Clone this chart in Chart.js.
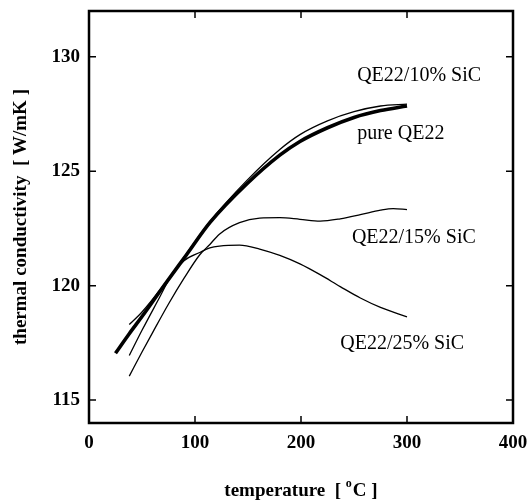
<!DOCTYPE html>
<html><head><meta charset="utf-8">
<script src="https://cdn.jsdelivr.net/npm/chart.js@4/dist/chart.umd.min.js"></script>
<style>html,body{margin:0;padding:0;background:#fff;}</style>
</head><body>
<canvas id="c" width="531" height="504" style="display:block;width:531px;height:504px"></canvas>
<script>
// ---- data ----
const xTicks = [0, 100, 200, 300, 400];
const yTicks = [115, 120, 125, 130];

const tempPure = [25, 38, 50, 70, 92, 114, 149, 180, 199, 225, 250, 275, 300];
const kPure    = [117.05, 117.9, 118.65, 119.95, 121.35, 122.75, 124.45, 125.7, 126.3, 126.9, 127.35, 127.65, 127.85];

const temp10 = [38, 50, 70, 92, 114, 149, 180, 199, 225, 250, 275, 300];
const k10    = [118.3, 118.85, 120.0, 121.4, 122.8, 124.6, 125.95, 126.6, 127.2, 127.6, 127.85, 127.93];

const temp15 = [38, 50, 60, 75, 90, 104.5, 114, 123, 142, 161, 180, 199, 218, 237, 256, 275, 287, 300];
const k15    = [116.05, 117.1, 117.95, 119.2, 120.35, 121.35, 121.8, 122.25, 122.75, 122.95, 122.97, 122.9, 122.82, 122.92, 123.1, 123.3, 123.37, 123.32];

const temp25 = [38, 50, 65, 79, 90, 104.5, 114, 123, 142, 161, 180, 199, 218, 237, 256, 275, 300];
const k25    = [116.95, 118.05, 119.35, 120.55, 121.1, 121.45, 121.65, 121.73, 121.77, 121.6, 121.32, 120.95, 120.48, 119.96, 119.46, 119.05, 118.64];

const seriesNames = ['pure QE22', 'QE22/10% SiC', 'QE22/15% SiC', 'QE22/25% SiC'];
// label anchors in data units (left edge x, vertical centre y)
const labelX = [253, 253, 248, 237];
const labelY = [126.62, 129.18, 122.08, 117.48];

const xTitle = 'temperature  [ ';
const xTitleSup = 'o';
const xTitleEnd = 'C ]';
const yTitle = 'thermal conductivity  [ W/mK ]';

// ---- build ----
const pts = (xs, ys) => xs.map((v, i) => ({x: v, y: ys[i]}));
const SERIF = '"Liberation Serif", "Times New Roman", serif';

const framePlugin = {
  id: 'frame',
  afterDraw(chart) {
    const {ctx, chartArea: a, scales: {x, y}} = chart;
    ctx.save();
    ctx.strokeStyle = '#000';
    ctx.lineWidth = 1.5;
    const L = 7;
    ctx.beginPath();
    xTicks.forEach(v => {
      const px = x.getPixelForValue(v);
      if (px > a.left + 2 && px < a.right - 2) {
        ctx.moveTo(px, a.bottom); ctx.lineTo(px, a.bottom - L);
        ctx.moveTo(px, a.top); ctx.lineTo(px, a.top + L);
      }
    });
    yTicks.forEach(v => {
      const py = y.getPixelForValue(v);
      ctx.moveTo(a.left, py); ctx.lineTo(a.left + L, py);
      ctx.moveTo(a.right, py); ctx.lineTo(a.right - L, py);
    });
    ctx.stroke();
    ctx.lineWidth = 2.5;
    ctx.strokeRect(a.left, a.top, a.right - a.left, a.bottom - a.top);

    // series labels
    ctx.fillStyle = '#000';
    ctx.font = '20px ' + SERIF;
    ctx.textAlign = 'left';
    ctx.textBaseline = 'middle';
    seriesNames.forEach((s, i) => {
      ctx.fillText(s, x.getPixelForValue(labelX[i]), y.getPixelForValue(labelY[i]));
    });

    // x title with superscript
    ctx.textBaseline = 'alphabetic';
    const fMain = 'bold 19px ' + SERIF, fSup = 'bold 12px ' + SERIF;
    ctx.font = fMain; const w1 = ctx.measureText(xTitle).width; const w3 = ctx.measureText(xTitleEnd).width;
    ctx.font = fSup; const w2 = ctx.measureText(xTitleSup).width + 1;
    const cx = (a.left + a.right) / 2;
    let sx = cx - (w1 + w2 + w3) / 2;
    const base = 496;
    ctx.font = fMain; ctx.fillText(xTitle, sx, base);
    ctx.font = fSup; ctx.fillText(xTitleSup, sx + w1, base - 9);
    ctx.font = fMain; ctx.fillText(xTitleEnd, sx + w1 + w2, base);

    // y title
    ctx.save();
    ctx.translate(21, (a.top + a.bottom) / 2);
    ctx.rotate(-Math.PI / 2);
    ctx.textAlign = 'center';
    ctx.textBaseline = 'middle';
    ctx.font = fMain;
    ctx.fillText(yTitle, 0, 0);
    ctx.restore();
    ctx.restore();
  }
};

const mk = (label, xs, ys, w) => ({
  label, data: pts(xs, ys), borderColor: '#000', borderWidth: w,
  pointRadius: 0, pointHoverRadius: 0, fill: false, cubicInterpolationMode: 'monotone'
});

const noPad = s => { s.paddingTop = 0; s.paddingBottom = 0; s.paddingLeft = 0; s.paddingRight = 0; };

new Chart(document.getElementById('c'), {
  type: 'line',
  data: {
    datasets: [
      mk(seriesNames[1], temp10, k10, 1.3),
      mk(seriesNames[2], temp15, k15, 1.3),
      mk(seriesNames[3], temp25, k25, 1.3),
      mk(seriesNames[0], tempPure, kPure, 3.6)
    ]
  },
  options: {
    responsive: false,
    animation: false,
    devicePixelRatio: 1,
    layout: {padding: {top: 11, right: 18, left: 0, bottom: 0}},
    plugins: {legend: {display: false}, tooltip: {enabled: false}},
    events: [],
    scales: {
      x: {
        type: 'linear', min: 0, max: 400,
        afterBuildTicks: s => { s.ticks = xTicks.map(v => ({value: v})); },
        afterFit: s => { s.height = 81; noPad(s); },
        grid: {display: false, drawTicks: false},
        border: {display: false},
        ticks: {color: '#000', padding: 9, maxRotation: 0, font: {family: SERIF, size: 19, weight: 'bold'}}
      },
      y: {
        type: 'linear', min: 114, max: 132,
        afterBuildTicks: s => { s.ticks = yTicks.map(v => ({value: v})); },
        afterFit: s => { s.width = 89; noPad(s); },
        grid: {display: false, drawTicks: false},
        border: {display: false},
        ticks: {color: '#000', padding: 9, font: {family: SERIF, size: 19, weight: 'bold'}}
      }
    }
  },
  plugins: [framePlugin]
});
</script>
</body></html>
